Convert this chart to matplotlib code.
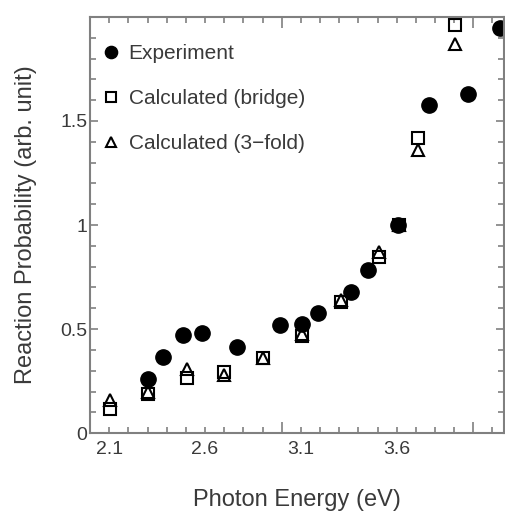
import numpy as np
from matplotlib import pyplot as plt
from matplotlib import ticker

# photon energy (eV) and reaction probability
exp_energy = [2.30, 2.38, 2.485, 2.585, 2.765, 2.99, 3.105, 3.19, 3.36, 3.45, 3.605, 3.77, 3.97, 4.14]
exp_prob = [0.26, 0.365, 0.47, 0.48, 0.415, 0.52, 0.525, 0.575, 0.68, 0.785, 1.0, 1.575, 1.63, 1.945]

calc_energy = [2.105, 2.30, 2.505, 2.70, 2.905, 3.105, 3.31, 3.51, 3.61, 3.71, 3.905]
bridge_prob = [0.115, 0.19, 0.265, 0.295, 0.36, 0.465, 0.63, 0.845, 1.0, 1.42, 1.96]
threefold_prob = [0.16, 0.20, 0.31, 0.28, 0.36, 0.475, 0.64, 0.87, 1.0, 1.36, 1.87]

x_labels = [2.1, 2.6, 3.1, 3.6]
y_labels = [0, 0.5, 1, 1.5]

plt.rcParams["font.family"] = ["Liberation Sans", "DejaVu Sans"]
text_color = "#3a3a3a"
spine_color = "#808080"

fig = plt.figure(figsize=(5.06, 5.12), dpi=100)
ax = fig.add_axes([0.178, 0.154, 0.818, 0.813])

ax.plot(exp_energy, exp_prob, "o", color="black", ms=11, label="Experiment")
ax.plot(calc_energy, bridge_prob, "s", mfc="none", mec="black", mew=1.5, ms=8.5,
        label="Calculated (bridge)")
ax.plot(calc_energy, threefold_prob, "^", mfc="none", mec="black", mew=1.5, ms=8.5,
        label="Calculated (3\u2212fold)")

ax.set_xlim(2.0, 4.16)
ax.set_ylim(0, 2.0)

# tall ticks at whole eV, short ticks every 0.1 with a few labelled
minor_x = [round(v, 1) for v in np.arange(2.1, 4.15, 0.1) if abs(v - 3.0) > 1e-6 and abs(v - 4.0) > 1e-6]
ax.xaxis.set_major_locator(ticker.FixedLocator([3.0, 4.0]))
ax.xaxis.set_major_formatter(ticker.NullFormatter())
ax.xaxis.set_minor_locator(ticker.FixedLocator(minor_x))
ax.xaxis.set_minor_formatter(ticker.FuncFormatter(
    lambda v, pos: f"{v:.1f}" if any(abs(v - l) < 1e-6 for l in x_labels) else ""))

ax.yaxis.set_major_locator(ticker.FixedLocator(y_labels))
ax.yaxis.set_major_formatter(ticker.FuncFormatter(lambda v, pos: f"{v:g}"))
ax.yaxis.set_minor_locator(ticker.MultipleLocator(0.1))

ax.tick_params(which="both", direction="in", top=True, right=True, color=spine_color,
               labelcolor=text_color, width=1.2)
ax.tick_params(axis="x", which="major", length=8)
ax.tick_params(axis="x", which="minor", length=4, labelsize=14, pad=6)
ax.tick_params(axis="y", which="major", length=6, labelsize=14, pad=2)
ax.tick_params(axis="y", which="minor", length=4)

for s in ax.spines.values():
    s.set_color(spine_color)
    s.set_linewidth(1.5)

ax.set_xlabel("Photon Energy (eV)", fontsize=17, color=text_color, labelpad=22)
ax.set_ylabel("Reaction Probability (arb. unit)", fontsize=17, color=text_color, labelpad=17)

leg = ax.legend(loc="upper left", frameon=False, fontsize=15, markerscale=0.8,
                handlelength=0.8, handletextpad=0.45, labelspacing=1.25,
                borderaxespad=0.2, bbox_to_anchor=(0.0, 0.965))
for t in leg.get_texts():
    t.set_color(text_color)

fig.savefig("out.png", dpi=100)
